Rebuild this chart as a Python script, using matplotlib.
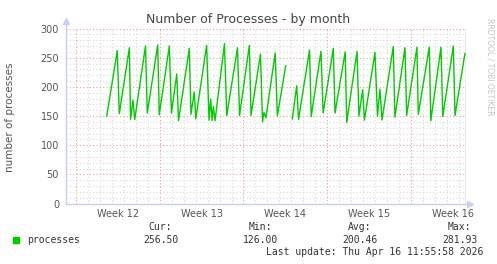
import matplotlib
matplotlib.use('Agg')
import matplotlib.pyplot as plt
import numpy as np

title = "Number of Processes - by month"
ylabel = "number of processes"
week_labels = ["Week 12", "Week 13", "Week 14", "Week 15", "Week 16"]
series_name = "processes"
stat_names = ["Cur:", "Min:", "Avg:", "Max:"]
stat_values = ["256.50", "126.00", "200.46", "281.93"]
last_update = "Last update: Thu Apr 16 11:55:58 2026"
watermark = "RRDTOOL / TOBI OETIKER"

# time in days since Monday of week 12 (NaN = missing data)
days = [2.57, 3.45, 3.62, 4.46, 4.56, 4.76, 4.91, 5.81, 5.96, 6.83, 6.96,
        7.80, 7.98, 8.42, 8.57, 9.47, 9.61, 9.89, 10.01, 10.92, 11.12, 11.26,
        11.37, 11.48, 11.62, 12.41, 12.60, 13.50, 13.67, 14.49, 14.63, 15.42,
        15.59, 15.71, 15.88, 16.65, 16.83, 17.53, 17.80,
        18.08, 18.45, 18.60, 19.52, 19.66, 20.48, 20.66, 21.51, 21.65, 22.50,
        22.63, 23.49, 23.65, 23.96, 24.11, 24.99, 25.20, 25.41, 25.58, 26.52,
        26.66, 27.50, 27.64, 28.50, 28.61, 29.53, 29.66, 30.51, 30.66, 31.54,
        31.68, 32.51]
procs = [150, 262, 154, 267, 144, 177, 144, 270, 155, 272, 152,
         270, 155, 222, 142, 266, 153, 191, 145, 271, 143, 179,
         142, 166, 142, 274, 151, 267, 151, 271, 151, 256,
         140, 156, 147, 258, 150, 236, np.nan,
         145, 202, 144, 263, 149, 261, 155, 266, 155, 260,
         139, 261, 150, 195, 143, 259, 150, 196, 143, 269,
         148, 267, 151, 268, 153, 268, 142, 268, 149, 270,
         151, 257]

W, H = 497, 264
fig = plt.figure(figsize=(W / 100, H / 100), dpi=100)
fig.patch.set_facecolor('white')

L, R, T, B = 66, 466, 28.5, 203.5
ax = fig.add_axes([L / W, (H - B) / H, (R - L) / W, (B - T) / H])
ax.set_facecolor('white')

xmin, xmax = -0.836, 32.60
ax.set_xlim(xmin, xmax)
ax.set_ylim(0, 300)

minor_c = '#d8d8d8'
major_c = '#e8a0a0'
axis_c = '#c8cff4'

# grid
for y in range(10, 301, 10):
    if y % 50:
        ax.axhline(y, color=minor_c, lw=0.8, ls=(0, (1, 2)), zorder=1)
for d in range(0, 33):
    if d % 7:
        ax.axvline(d, color=minor_c, lw=0.8, ls=(0, (1, 2)), zorder=1)
for y in range(50, 301, 50):
    ax.axhline(y, color=major_c, lw=0.8, ls=(0, (1, 2)), zorder=1.5)
for d in range(0, 33, 7):
    ax.axvline(d, color=major_c, lw=0.8, ls=(0, (1, 2)), zorder=1.5)

ax.plot(days, procs, color='#00cc00', lw=1.0, zorder=3)
ax.axvline(32.56, color='#888888', lw=1.0, zorder=4)

for s in ax.spines.values():
    s.set_visible(False)

# axes lines with arrows
ax.plot([xmin, xmin], [0, 300 + 7 / 175 * 300], color=axis_c, lw=1, clip_on=False, zorder=5)
ax.plot([xmin, xmax + 0.3], [0, 0], color=axis_c, lw=1, clip_on=False, zorder=5)
ax.plot([xmin], [300 + 8 / 175 * 300], marker='^', ms=4, color=axis_c, clip_on=False, zorder=5)
ax.plot([xmax + 0.35], [0], marker='>', ms=4, color=axis_c, clip_on=False, zorder=5)

ax.set_yticks(range(0, 301, 50))
ax.set_yticklabels([str(v) for v in range(0, 301, 50)])
ax.set_xticks([3.5 + 7 * i for i in range(5)])
ax.set_xticklabels(week_labels)
ax.tick_params(axis='both', length=0, labelsize=7, colors='#555555')
ax.tick_params(axis='y', pad=5)
ax.tick_params(axis='x', pad=4)

fig.text(248.5 / W, 1 - 19 / H, title, ha='center', va='center',
         fontsize=9, color='#444444')
fig.text(10 / W, 1 - 117 / H, ylabel, rotation=90, ha='center', va='center',
         fontsize=7.5, color='#555555')
fig.text(490 / W, 1 - 67 / H, watermark, rotation=270, ha='center', va='center',
         fontsize=5.5, color='#c4c4c4')

mono = 'DejaVu Sans Mono'
fig.patches.append(plt.Rectangle((13 / W, 1 - 243 / H), 6 / W, 6 / H,
                                 transform=fig.transFigure, color='#00cc00'))
fig.text(27 / W, 1 - 240 / H, series_name, family=mono, fontsize=7,
         ha='left', va='center', color='#333333')
centers = [160.5, 260.5, 360, 459.5]
for cx, nm, vl in zip(centers, stat_names, stat_values):
    fig.text(cx / W, 1 - 227 / H, nm, family=mono, fontsize=7,
             ha='center', va='center', color='#333333')
    fig.text(cx / W, 1 - 240 / H, vl, family=mono, fontsize=7,
             ha='center', va='center', color='#333333')
fig.text(483 / W, 1 - 252 / H, last_update, family=mono, fontsize=7,
         ha='right', va='center', color='#333333')

fig.savefig('out.png', dpi=100)
